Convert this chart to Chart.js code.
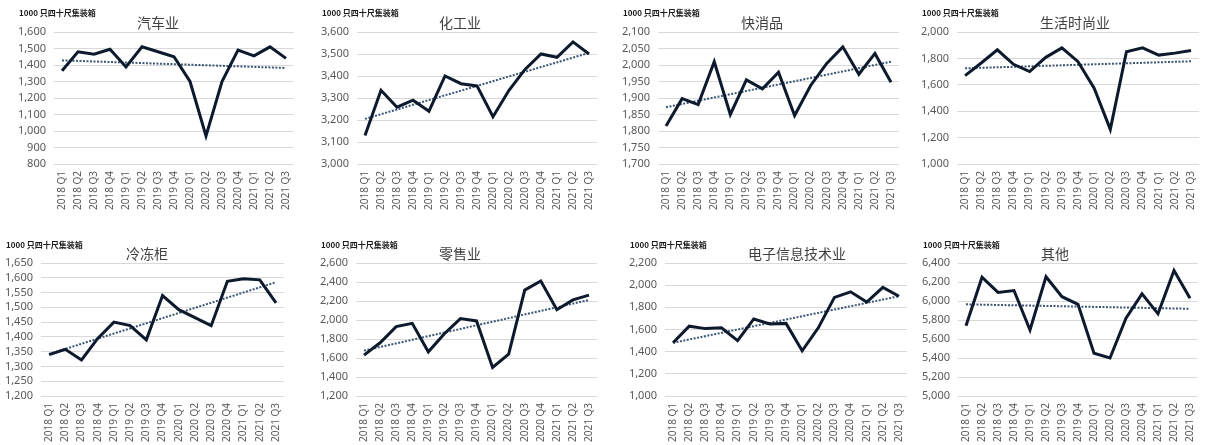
<!DOCTYPE html>
<html>
<head>
<meta charset="utf-8">
<script src="https://cdn.jsdelivr.net/npm/chart.js@4.4.1/dist/chart.umd.min.js"></script>
<style>
  html, body { margin: 0; padding: 0; background: #ffffff; }
  body { width: 1208px; height: 445px; position: relative; overflow: hidden; }
  .box { position: absolute; }
</style>
</head>
<body>
<script>
// ---------- data ----------
const categories = ["2018 Q1","2018 Q2","2018 Q3","2018 Q4","2019 Q1","2019 Q2","2019 Q3","2019 Q4",
                    "2020 Q1","2020 Q2","2020 Q3","2020 Q4","2021 Q1","2021 Q2","2021 Q3"];
const unitLabel = "1000 只四十尺集装箱";
const chartTitles = ["汽车业","化工业","快消品","生活时尚业","冷冻柜","零售业","电子信息技术业","其他"];

const autoValues        = [1365,1480,1465,1495,1388,1510,1480,1450,1300, 970,1300,1490,1455,1510,1440];
const chemValues        = [3130,3335,3258,3290,3240,3400,3365,3355,3215,3335,3430,3500,3485,3555,3500];
const fmcgValues        = [1815,1898,1880,2010,1850,1955,1928,1978,1847,1938,2005,2055,1972,2035,1948];
const fashionValues     = [1670,1765,1865,1755,1700,1808,1880,1775,1575,1262,1850,1880,1825,1840,1860];
const freezerValues     = [1340,1358,1322,1395,1450,1438,1390,1540,1492,1465,1438,1588,1597,1593,1515];
const retailValues      = [1630,1760,1930,1965,1665,1855,2015,1990,1500,1640,2315,2410,2108,2212,2262];
const electronicsValues = [1480,1630,1608,1615,1500,1695,1650,1655,1408,1615,1890,1940,1848,1980,1900];
const otherValues       = [5740,6250,6090,6110,5695,6255,6045,5965,5450,5400,5820,6075,5865,6320,6030];

// trend line end points (first and last quarter)
const trendStart = [1428, 3205, 1872, 1725, 1342, 1678, 1480, 5965];
const trendEnd   = [1382, 3505, 2010, 1778, 1585, 2210, 1900, 5918];

// y axis tick ranges
const yTickMin  = [ 800, 3000, 1700, 1000, 1200, 1200, 1000, 5000];
const yTickMax  = [1600, 3600, 2100, 2000, 1650, 2600, 2200, 6400];
const yTickStep = [ 100,  100,   50,  200,   50,  200,  200,  200];

const seriesValues = [autoValues, chemValues, fmcgValues, fashionValues,
                      freezerValues, retailValues, electronicsValues, otherValues];

// ---------- layout (page pixel positions) ----------
const layout = [
  {L: 54,  R: 305,  T: 32,  B: 164, tx: 158,  ty: 23},
  {L: 357, R: 608,  T: 32,  B: 164, tx: 460,  ty: 23},
  {L: 658, R: 910,  T: 32,  B: 164, tx: 762,  ty: 23},
  {L: 957, R: 1210, T: 32,  B: 164, tx: 1075, ty: 23},
  {L: 41,  R: 295,  T: 263, B: 396, tx: 147,  ty: 254},
  {L: 356, R: 608,  T: 263, B: 396, tx: 460,  ty: 254},
  {L: 665, R: 918,  T: 263, B: 396, tx: 797,  ty: 254},
  {L: 958, R: 1209, T: 263, B: 396, tx: 1055, ty: 254}
];

const YW = 60, TOPPAD = 32, XH = 60;
const FONT = "'Noto Sans', 'Noto Sans CJK SC', sans-serif";
const CJK = "'Noto Sans CJK SC', 'Noto Sans', sans-serif";

const textPlugin = {
  id: 'panelText',
  afterDraw(chart, args, opts) {
    const ctx = chart.ctx;
    ctx.save();
    ctx.textBaseline = 'middle';
    // unit label
    ctx.fillStyle = '#1a1a1a';
    ctx.font = "bold 8px " + CJK;
    ctx.textAlign = 'left';
    ctx.fillText(opts.unit, opts.ux, opts.uy);
    // title
    ctx.fillStyle = '#404040';
    ctx.font = "14px " + CJK;
    ctx.textAlign = 'center';
    ctx.fillText(opts.title, opts.tx, opts.ty);
    ctx.restore();
  }
};

layout.forEach((p, i) => {
  const left = p.L - YW;
  const top = p.T - TOPPAD;
  const width = p.R - p.L + YW;
  const height = (p.B - p.T) + TOPPAD + XH;
  const div = document.createElement('div');
  div.className = 'box';
  div.style.left = left + 'px';
  div.style.top = top + 'px';
  div.style.width = width + 'px';
  div.style.height = height + 'px';
  const cv = document.createElement('canvas');
  div.appendChild(cv);
  document.body.appendChild(div);

  const trend = categories.map((c, k) => k === 0 ? trendStart[i] : (k === categories.length - 1 ? trendEnd[i] : null));

  new Chart(cv, {
    type: 'line',
    data: {
      labels: categories,
      datasets: [
        {
          data: trend,
          borderColor: '#3b5677',
          borderWidth: 2,
          borderDash: [2, 1.5],
          pointRadius: 0,
          spanGaps: true,
          fill: false,
          order: 2
        },
        {
          data: seriesValues[i],
          borderColor: '#0d1a2d',
          borderWidth: 3,
          pointRadius: 0,
          tension: 0,
          fill: false,
          borderJoinStyle: 'miter',
          order: 1
        }
      ]
    },
    options: {
      responsive: true,
      maintainAspectRatio: false,
      animation: false,
      devicePixelRatio: 1,
      layout: { padding: { top: TOPPAD, left: 0, right: 0, bottom: 0 } },
      plugins: {
        legend: { display: false },
        tooltip: { enabled: false },
        title: { display: false },
        panelText: {
          unit: unitLabel,
          title: chartTitles[i],
          ux: p.L - 35 - left,
          uy: (i < 4 ? 13 : 245) - top,
          tx: p.tx - left,
          ty: p.ty - top
        }
      },
      scales: {
        x: {
          type: 'category',
          offset: true,
          grid: { display: false, drawTicks: false },
          border: { display: false },
          ticks: {
            autoSkip: false,
            maxRotation: 90,
            minRotation: 90,
            padding: 7,
            color: '#595959',
            font: { family: FONT, size: 10 }
          },
          afterFit(scale) { scale.height = XH; }
        },
        y: {
          min: yTickMin[i],
          max: yTickMax[i],
          grid: { color: '#d9d9d9', lineWidth: 1, drawTicks: false },
          border: { display: false },
          ticks: {
            stepSize: yTickStep[i],
            autoSkip: false,
            padding: 8,
            color: '#595959',
            font: { family: FONT, size: 11 },
            callback: (v) => v.toLocaleString('en-US')
          },
          afterFit(scale) { scale.width = YW; }
        }
      }
    },
    plugins: [textPlugin]
  });
});
</script>
</body>
</html>
